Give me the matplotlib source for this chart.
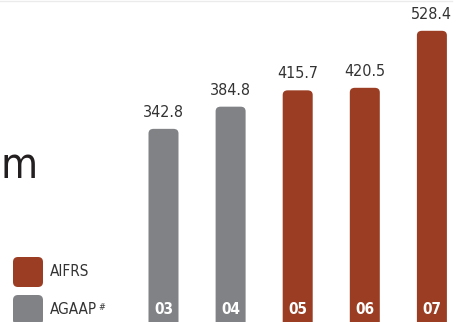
import os
import matplotlib
matplotlib.use("Agg")
import matplotlib.pyplot as plt
from matplotlib import font_manager
from matplotlib.patches import FancyBboxPatch
from matplotlib.lines import Line2D

years = ["03", "04", "05", "06", "07"]
values = [342.8, 384.8, 415.7, 420.5, 528.4]
standard = ["AGAAP", "AGAAP", "AIFRS", "AIFRS", "AIFRS"]
colors = {"AIFRS": "#9a3d22", "AGAAP": "#808285"}
legend_labels = ["AIFRS", "AGAAP"]

W, H = 464, 322
TXT = "#333333"


def pick_font(candidates, fallback_weight):
    # the original uses a condensed face; take the first narrow one installed
    files = {os.path.basename(f.fname): f.fname for f in font_manager.fontManager.ttflist}
    for c in candidates:
        if c in files:
            return font_manager.FontProperties(fname=files[c])
    return font_manager.FontProperties(family="Roboto", weight=fallback_weight)


FP = pick_font(["LiberationSansNarrow-Regular.ttf", "DejaVuSansCondensed.ttf"], "normal")
FPB = pick_font(["LiberationSansNarrow-Bold.ttf", "DejaVuSansCondensed-Bold.ttf"], "bold")


def fp(base, size):
    p = base.copy()
    p.set_size(size)
    return p


fig = plt.figure(figsize=(W / 100, H / 100), dpi=100)
ax = fig.add_axes([0, 0, 1, 1])

# pixel geometry of the original: bar centres 67.1px apart, 0.571 px per unit
px_x = 67.1
px_y = 0.571
ax.set_xlim(-163.5 / px_x, (W - 163.5) / px_x)
ax.set_ylim(-(335 - 322) / px_y, 335 / px_y)
ax.axis("off")

bar_w = 30 / px_x
bars = ax.bar(range(len(values)), values, width=bar_w,
              color=[colors[s] for s in standard])

# swap plain rectangles for top-rounded boxes
r = 5 / px_x
aspect = (1 / px_y) / (1 / px_x)
for b in bars:
    x0, y0 = b.get_x(), b.get_y()
    w, h = b.get_width(), b.get_height()
    b.set_visible(False)
    box = FancyBboxPatch((x0, y0 - 40), w, h + 40,
                         boxstyle=f"round,pad=0,rounding_size={r}",
                         mutation_aspect=aspect,
                         facecolor=b.get_facecolor(), edgecolor="none")
    ax.add_patch(box)

for i, (v, yr) in enumerate(zip(values, years)):
    ax.annotate(f"{v:.1f}", (i, v), xytext=(0, 6.5), textcoords="offset points",
                ha="center", va="bottom", fontproperties=fp(FP, 11.5), color=TXT)
    ax.text(i, (H - 310) / H, yr, transform=ax.get_xaxis_transform(),
            ha="center", va="center", fontproperties=fp(FPB, 11), color="white")

# big unit text; shrink until it fits inside the left margin
m_size = 57
m = fig.text(38 / W, (H - 178) / H, "m", ha="right", va="baseline",
             fontproperties=fp(FP, m_size), color="#231f20")
ext = m.get_window_extent(renderer=fig.canvas.get_renderer())
if ext.width > 37:
    m.set_fontproperties(fp(FP, m_size * 37 / ext.width))

# legend
leg_y = [257, 295]
ma = (1 / H) / (1 / W)
for lab, top in zip(legend_labels, leg_y):
    p = FancyBboxPatch((13 / W, (H - top - 30) / H), 30 / W, 30 / H,
                       boxstyle=f"round,pad=0,rounding_size={5 / W}",
                       mutation_aspect=ma, transform=fig.transFigure,
                       facecolor=colors[lab], edgecolor="none")
    fig.add_artist(p)
    t = fig.text(50 / W, (H - top - 15) / H, lab, ha="left", va="center",
                 fontproperties=fp(FP, 11), color=TXT)
    if lab == "AGAAP":
        ax.annotate("#", xy=(1, 1), xycoords=t, xytext=(1, 0),
                    textcoords="offset points", ha="left", va="top",
                    fontproperties=fp(FP, 6.5), color=TXT)

fig.add_artist(Line2D([0, 452 / W], [1 - 0.8 / H, 1 - 0.8 / H],
                      transform=fig.transFigure, color="#ebebeb", lw=1))

fig.savefig("out.png", dpi=100)
